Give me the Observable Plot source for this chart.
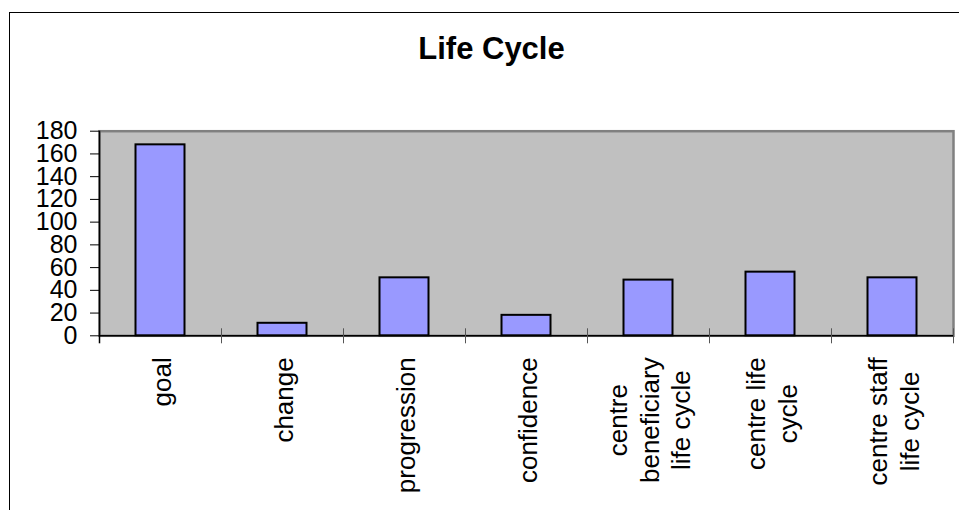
<!DOCTYPE html>
<html><head><meta charset="utf-8">
<script src="https://cdn.jsdelivr.net/npm/d3@7"></script>
<script src="https://cdn.jsdelivr.net/npm/@observablehq/plot@0.6"></script>
<style>
body{margin:0;background:#fff;}
#wrap{position:relative;width:959px;height:510px;overflow:hidden;font-family:"Liberation Sans",Arial,sans-serif;}
#border{position:absolute;left:9px;top:12px;right:-10px;bottom:-10px;border-top:1px solid #000;border-left:1px solid #000;z-index:2;pointer-events:none;}
#title{position:absolute;left:0;top:33px;width:983px;text-align:center;font-weight:bold;font-size:31px;line-height:31px;color:#000;z-index:3;}
#chart{position:absolute;left:0;top:0;z-index:1;}
</style></head><body>
<div id="wrap"><div id="chart"></div><div id="border"></div><div id="title">Life Cycle</div></div>
<script>
const categories = ["goal", "change", "progression", "confidence", "centre\nbeneficiary\nlife cycle", "centre life\ncycle", "centre staff\nlife cycle"];
const values = [168, 11, 51, 18, 49, 56, 51];
const yTicks = [0, 20, 40, 60, 80, 100, 120, 140, 160, 180];

const W = 959, H = 510, mL = 99, mR = 6, mT = 130.7, mB = 174.7;
const bw = (W - mL - mR) / categories.length;
const ppu = (H - mT - mB) / 180;
const font = '"Liberation Sans", Arial, sans-serif';
const data = categories.map((c, i) => ({category: c, value: values[i]}));
const ctx = document.createElement("canvas").getContext("2d");
ctx.font = `26px ${font}`;
const maxLen = c => Math.max(...c.split("\n").map(s => ctx.measureText(s).width));

const chart = Plot.plot({
  width: W, height: H,
  marginLeft: mL, marginRight: mR, marginTop: mT, marginBottom: mB,
  style: {fontFamily: font, background: "none", color: "#000"},
  x: {type: "band", domain: categories, padding: 0, axis: null},
  y: {domain: [0, 180], axis: null},
  marks: [
    Plot.frame({fill: "#c0c0c0", stroke: "#808080", strokeWidth: 2.5}),
    Plot.barY(data, {x: "category", y: "value", fill: "#9999ff", stroke: "#000", strokeWidth: 2, insetLeft: 36.5, insetRight: 36.5}),
    Plot.ruleY([0], {stroke: "#000", strokeWidth: 1.5}),
    Plot.ruleX(categories.slice(1), {x: d => d, dx: -bw / 2, y1: -8 / ppu, y2: 7 / ppu, stroke: "#555", strokeWidth: 1}),
    Plot.ruleX([categories[categories.length - 1]], {x: d => d, dx: bw / 2, y1: -8 / ppu, y2: 7 / ppu, stroke: "#555", strokeWidth: 1}),
    Plot.ruleX([categories[0]], {x: d => d, dx: -bw / 2, y1: -8 / ppu, y2: 180, stroke: "#000", strokeWidth: 1.5}),
    Plot.axisY({ticks: yTicks, tickSize: 9, tickPadding: 13, fontSize: 25, label: null, tickFormat: d => String(d), stroke: "#000", fill: "#000"}),
    ...categories.map(c => Plot.text([c], {
      x: d => d, frameAnchor: "bottom", dy: 21.5 + maxLen(c) / 2,
      rotate: -90, textAnchor: "middle", lineAnchor: "middle",
      fontSize: 26, lineHeight: 1.22, fill: "#000"
    }))
  ]
});
document.getElementById("chart").appendChild(chart);
</script>
</body></html>
